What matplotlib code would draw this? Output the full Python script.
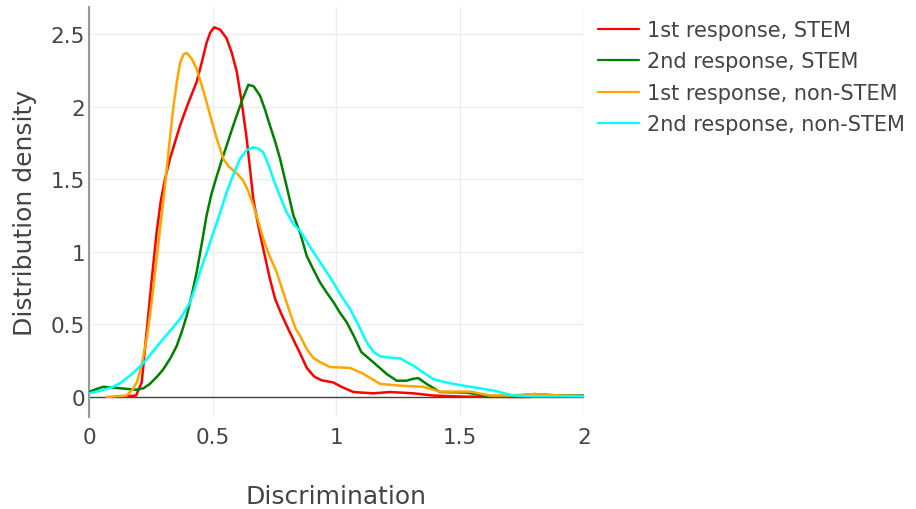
import matplotlib
matplotlib.use("Agg")
import matplotlib.pyplot as plt
from matplotlib.ticker import FuncFormatter

# ---- data ----
red_x = [0.12, 0.19, 0.213, 0.233, 0.253, 0.273, 0.29, 0.307, 0.327, 0.368, 0.40, 0.435, 0.455, 0.475, 0.49, 0.506,
         0.53, 0.556, 0.577, 0.597, 0.617, 0.637, 0.65, 0.664, 0.684, 0.704, 0.73, 0.752, 0.775, 0.799, 0.83, 0.853,
         0.88, 0.91, 0.94, 0.987, 1.02, 1.068, 1.148, 1.216, 1.26, 1.31, 1.39, 1.5, 1.6, 1.78]
red_y = [0.0, 0.01, 0.1, 0.45, 0.8, 1.13, 1.35, 1.5, 1.64, 1.87, 2.02, 2.17, 2.3, 2.44, 2.51, 2.546,
         2.53, 2.47, 2.37, 2.24, 2.03, 1.78, 1.58, 1.36, 1.18, 1.02, 0.82, 0.675, 0.58, 0.49, 0.38, 0.30,
         0.2, 0.14, 0.115, 0.10, 0.07, 0.034, 0.025, 0.034, 0.03, 0.025, 0.01, 0.003, 0.001, 0.0]

green_x = [0.0, 0.03, 0.058, 0.125, 0.19, 0.22, 0.246, 0.275, 0.3, 0.33, 0.354, 0.375, 0.395, 0.415, 0.435, 0.455,
           0.475, 0.495, 0.516, 0.536, 0.556, 0.577, 0.597, 0.62, 0.644, 0.665, 0.691, 0.711, 0.731, 0.752, 0.772,
           0.80, 0.826, 0.853, 0.88, 0.906, 0.933, 0.96, 0.987, 1.014, 1.041, 1.07, 1.10, 1.148, 1.203, 1.243,
           1.283, 1.31, 1.33, 1.364, 1.418, 1.526, 1.607, 1.7, 1.8, 1.9, 2.0]
green_y = [0.034, 0.055, 0.07, 0.06, 0.05, 0.06, 0.09, 0.14, 0.19, 0.27, 0.35, 0.45, 0.56, 0.70, 0.86, 1.05,
           1.25, 1.40, 1.52, 1.63, 1.73, 1.84, 1.94, 2.05, 2.15, 2.14, 2.075, 1.98, 1.87, 1.76, 1.64,
           1.44, 1.25, 1.13, 0.97, 0.88, 0.79, 0.72, 0.655, 0.58, 0.515, 0.42, 0.31, 0.24, 0.158, 0.112,
           0.112, 0.125, 0.13, 0.09, 0.034, 0.03, 0.007, 0.005, 0.02, 0.01, 0.01]

orange_x = [0.071, 0.152, 0.175, 0.193, 0.213, 0.233, 0.253, 0.273, 0.29, 0.307, 0.325, 0.341, 0.355, 0.368, 0.382,
            0.395, 0.415, 0.435, 0.455, 0.475, 0.496, 0.516, 0.543, 0.563, 0.583, 0.603, 0.623, 0.643, 0.664, 0.684,
            0.704, 0.73, 0.758, 0.785, 0.812, 0.835, 0.853, 0.88, 0.906, 0.933, 0.974, 1.055, 1.108, 1.176, 1.257,
            1.35, 1.418, 1.54, 1.62, 1.7, 1.8, 1.9, 2.0]
orange_y = [0.0, 0.01, 0.05, 0.1, 0.22, 0.4, 0.65, 0.95, 1.2, 1.455, 1.75, 2.0, 2.17, 2.3, 2.36,
            2.37, 2.33, 2.26, 2.15, 2.03, 1.9, 1.78, 1.64, 1.59, 1.56, 1.53, 1.49, 1.42, 1.32, 1.21,
            1.09, 0.97, 0.86, 0.72, 0.58, 0.47, 0.42, 0.33, 0.27, 0.24, 0.206, 0.2, 0.16, 0.09, 0.078,
            0.07, 0.037, 0.037, 0.01, 0.01, 0.02, 0.01, 0.005]

cyan_x = [0.0, 0.05, 0.098, 0.13, 0.166, 0.2, 0.233, 0.266, 0.3, 0.335, 0.368, 0.39, 0.408, 0.428, 0.448, 0.475,
          0.502, 0.53, 0.556, 0.583, 0.61, 0.637, 0.664, 0.684, 0.704, 0.725, 0.745, 0.772, 0.799, 0.826, 0.853,
          0.88, 0.906, 0.933, 0.96, 0.987, 1.014, 1.055, 1.09, 1.122, 1.15, 1.176, 1.22, 1.257, 1.31, 1.35, 1.39,
          1.43, 1.472, 1.553, 1.634, 1.714, 1.8, 2.0]
cyan_y = [0.025, 0.045, 0.07, 0.1, 0.147, 0.2, 0.26, 0.33, 0.4, 0.47, 0.537, 0.6, 0.65, 0.75, 0.86, 0.99,
          1.13, 1.27, 1.41, 1.53, 1.64, 1.70, 1.72, 1.71, 1.685, 1.6, 1.5, 1.38, 1.27, 1.19, 1.145,
          1.07, 1.0, 0.93, 0.86, 0.79, 0.71, 0.606, 0.49, 0.377, 0.31, 0.28, 0.27, 0.266, 0.216, 0.17, 0.124,
          0.105, 0.09, 0.067, 0.044, 0.01, 0.005, 0.005]

series_labels = ["1st response, STEM", "2nd response, STEM",
                 "1st response, non-STEM", "2nd response, non-STEM"]
series_colors = ["#ff0000", "#008000", "#ffa500", "#00ffff"]

x_ticks = [0, 0.5, 1, 1.5, 2]
y_ticks = [0, 0.5, 1, 1.5, 2, 2.5]

# ---- figure ----
plt.rcParams['font.family'] = ['DejaVu Sans']
fig = plt.figure(figsize=(9.16, 5.10), dpi=100)
ax = fig.add_axes([89/916, 1 - 418/510, (584 - 89)/916, (418 - 8)/510])

xs = [red_x, green_x, orange_x, cyan_x]
ys = [red_y, green_y, orange_y, cyan_y]
for x, y, lab, col in zip(xs, ys, series_labels, series_colors):
    ax.plot(x, y, color=col, lw=1.8, label=lab, solid_joinstyle='round',
            solid_capstyle='round', zorder=3)

ax.set_xlim(0, 2)
ax.set_ylim(-0.138, 2.686)
ax.set_xticks(x_ticks)
ax.set_yticks(y_ticks)
fmt = FuncFormatter(lambda v, p: ('%g' % v))
ax.xaxis.set_major_formatter(fmt)
ax.yaxis.set_major_formatter(fmt)

ax.grid(True, color="#eeeeee", lw=1.0, zorder=0)
ax.axhline(0, color="#444444", lw=1.0, zorder=2)
for s in ["top", "right", "bottom"]:
    ax.spines[s].set_visible(False)
ax.spines["left"].set_color("#999999")
ax.spines["left"].set_linewidth(1.5)
ax.tick_params(axis="both", length=0, labelsize=15.5, colors="#444444")
ax.tick_params(axis="x", pad=7)
ax.tick_params(axis="y", pad=3)

ax.set_xlabel("Discrimination", fontsize=18, color="#444444", labelpad=27)
ax.set_ylabel("Distribution density", fontsize=18, color="#444444", labelpad=10)

leg = fig.legend(loc="upper left", bbox_to_anchor=(598/916, 1 - 21/510), frameon=False,
                 fontsize=15, handlelength=1.95, handletextpad=0.4, labelspacing=0.55,
                 labelcolor="#444444", borderaxespad=0, borderpad=0)
for h in leg.get_lines():
    h.set_linewidth(1.6)

fig.savefig("out.png", dpi=100)
